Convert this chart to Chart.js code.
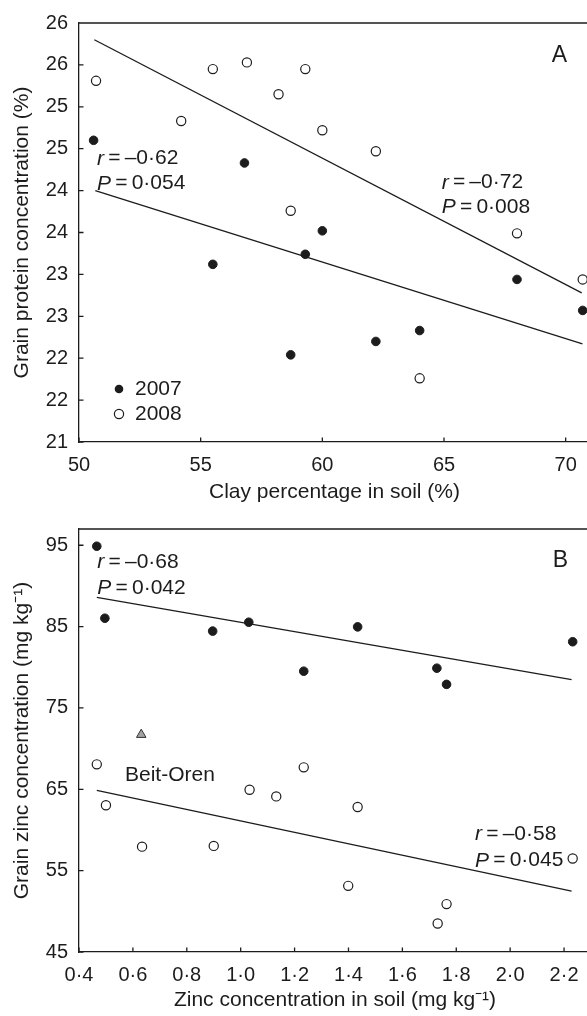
<!DOCTYPE html>
<html>
<head>
<meta charset="utf-8">
<script src="https://cdn.jsdelivr.net/npm/chart.js@4.4.1/dist/chart.umd.min.js"></script>
<style>
  html, body { margin: 0; padding: 0; background: #fff; overflow: hidden; }
  #wrap { position: relative; width: 587px; height: 1016px; overflow: hidden; background: #fff; }
  canvas { position: absolute; left: 0; }
  #clayChart { top: 0; }
  #zincChart { top: 506px; }
</style>
</head>
<body>
<div id="wrap">
  <canvas id="clayChart" width="600" height="506"></canvas>
  <canvas id="zincChart" width="600" height="510"></canvas>
</div>
<script>
// ---- Panel A: clay percentage vs grain protein ----
const clay2007 = [50.6, 56.8, 55.5, 60.0, 59.3, 58.7, 62.2, 64.0, 68.0, 70.7];
const protein2007 = [24.60, 24.33, 23.12, 23.52, 23.24, 22.04, 22.20, 22.33, 22.94, 22.57];
const clay2008 = [50.7, 54.2, 55.5, 56.9, 58.2, 59.3, 60.0, 62.2, 58.7, 68.0, 70.7, 64.0];
const protein2008 = [25.31, 24.83, 25.45, 25.53, 25.15, 25.45, 24.72, 24.47, 23.76, 23.49, 22.94, 21.76];
const clayFit2007X = [50.67, 70.69];
const clayFit2007Y = [24.00, 22.17];
const clayFit2008X = [50.63, 70.66];
const clayFit2008Y = [25.80, 22.78];
const clayTicks = [50, 55, 60, 65, 70];
const clayTickLabels = ['50', '55', '60', '65', '70'];
const proteinTicks = [21, 21.5, 22, 22.5, 23, 23.5, 24, 24.5, 25, 25.5, 26];
const proteinTickLabels = ['21', '22', '22', '23', '23', '24', '24', '25', '25', '26', '26'];

// ---- Panel B: soil zinc vs grain zinc ----
const soilZn2007 = [0.466, 0.496, 0.896, 1.030, 1.234, 1.434, 1.728, 1.764, 2.232];
const grainZn2007 = [94.88, 86.03, 84.45, 85.54, 79.52, 84.97, 79.89, 77.90, 83.14];
const soilZn2008 = [0.466, 0.500, 0.634, 0.900, 1.033, 1.132, 1.234, 1.434, 1.399, 1.764, 1.731, 2.232];
const grainZn2008 = [68.07, 63.04, 57.95, 58.04, 64.95, 64.13, 67.70, 62.83, 53.13, 50.89, 48.50, 56.49];
const beitOrenX = [0.631];
const beitOrenY = [71.72];
const znFit2007X = [0.466, 2.228];
const znFit2007Y = [88.59, 78.48];
const znFit2008X = [0.466, 2.228];
const znFit2008Y = [64.86, 52.47];
const soilZnTicks = [0.4, 0.6, 0.8, 1.0, 1.2, 1.4, 1.6, 1.8, 2.0, 2.2];
const soilZnTickLabels = ['0·4', '0·6', '0·8', '1·0', '1·2', '1·4', '1·6', '1·8', '2·0', '2·2'];
const grainZnTicks = [45, 55, 65, 75, 85, 95];
const grainZnTickLabels = ['45', '55', '65', '75', '85', '95'];

const ink = '#1c1c1c';
const family = '"Liberation Sans", Arial, Helvetica, sans-serif';
const tickFont = { family: family, size: 20 };
const titleFont = { family: family, size: 21 };

const pts = (xs, ys) => xs.map((x, i) => ({ x: x, y: ys[i] }));

// border on top, inward tick marks, text notes and the small legend
const figureDecor = {
    id: 'figureDecor',
    afterDraw(chart, args, opts) {
        const ctx = chart.ctx;
        const area = chart.chartArea;
        const xs = chart.scales.x;
        const ys = chart.scales.y;
        ctx.save();
        ctx.strokeStyle = ink;
        ctx.lineWidth = 1.3;
        ctx.beginPath();
        ctx.moveTo(area.left, area.top);
        ctx.lineTo(area.right + 2, area.top);
        xs.ticks.forEach(t => {
            const px = xs.getPixelForValue(t.value);
            ctx.moveTo(px, area.bottom);
            ctx.lineTo(px, area.bottom - 4.5);
        });
        ys.ticks.forEach(t => {
            const py = ys.getPixelForValue(t.value);
            ctx.moveTo(area.left, py);
            ctx.lineTo(area.left + 4.5, py);
        });
        ctx.stroke();

        ctx.fillStyle = ink;
        ctx.textBaseline = 'middle';
        ctx.textAlign = 'left';
        (opts.notes || []).forEach(n => {
            let x = area.left + n.dx;
            const y = area.top + n.dy;
            const size = n.size || 21;
            if (n.italic) {
                ctx.font = 'italic ' + size + 'px ' + family;
                ctx.fillText(n.italic, x, y);
                x += ctx.measureText(n.italic).width;
            }
            ctx.font = size + 'px ' + family;
            ctx.fillText(n.text, x, y);
        });

        (opts.legend || []).forEach(l => {
            const cx = area.left + l.dx;
            const cy = area.top + l.dy;
            ctx.beginPath();
            ctx.arc(cx, cy, l.filled ? 4.3 : 4.6, 0, Math.PI * 2);
            if (l.filled) {
                ctx.fillStyle = ink;
                ctx.fill();
            } else {
                ctx.fillStyle = '#fff';
                ctx.fill();
                ctx.lineWidth = 1.2;
                ctx.stroke();
            }
            ctx.fillStyle = ink;
            ctx.font = '21px ' + family;
            ctx.fillText(l.text, cx + 16, cy);
        });
        ctx.restore();
    }
};

function filledSet(label, data) {
    return {
        label: label, data: data,
        pointRadius: 4.3, pointHoverRadius: 4.3,
        pointBackgroundColor: ink, pointBorderColor: ink, pointBorderWidth: 1
    };
}

function openSet(label, data) {
    return {
        label: label, data: data,
        pointRadius: 4.6, pointHoverRadius: 4.6,
        pointBackgroundColor: '#fff', pointBorderColor: ink, pointBorderWidth: 1.2
    };
}

function fitLine(label, data) {
    return {
        label: label, data: data, showLine: true,
        borderColor: ink, borderWidth: 1.3, pointRadius: 0, fill: false
    };
}

function axis(min, max, ticks, labels, title, fitSize, vertical, titlePad) {
    return {
        type: 'linear', min: min, max: max,
        afterBuildTicks: s => { s.ticks = ticks.map(v => ({ value: v })); },
        afterFit: s => { if (vertical) { s.width = fitSize; } else { s.height = fitSize; } },
        grid: { display: false, drawTicks: false },
        border: { display: true, color: ink, width: 1.3 },
        ticks: { padding: 11, color: ink, font: tickFont, maxRotation: 0, autoSkip: false,
                 callback: (v, i) => labels[i] },
        title: { display: true, text: title, color: ink, font: titleFont, padding: titlePad }
    };
}

new Chart(document.getElementById('clayChart'), {
    type: 'scatter',
    data: {
        datasets: [
            fitLine('2008 fit', pts(clayFit2008X, clayFit2008Y)),
            fitLine('2007 fit', pts(clayFit2007X, clayFit2007Y)),
            filledSet('2007', pts(clay2007, protein2007)),
            openSet('2008', pts(clay2008, protein2008))
        ]
    },
    options: {
        responsive: false,
        animation: false,
        layout: { padding: { top: 16, right: 10, left: 0, bottom: 0 } },
        scales: {
            x: axis(50, 71, clayTicks, clayTickLabels, 'Clay percentage in soil (%)', 64, false, { top: 0, bottom: 1.4 }),
            y: axis(21, 26, proteinTicks, proteinTickLabels, 'Grain protein concentration (%)', 79, true, { top: 9.4, bottom: 0 })
        },
        plugins: {
            legend: { display: false },
            tooltip: { enabled: false },
            figureDecor: {
                notes: [
                    { dx: 18, dy: 135.7, italic: 'r', text: '\u2009=\u2009–0·62' },
                    { dx: 18, dy: 160.7, italic: 'P', text: '\u2009=\u20090·054' },
                    { dx: 362.7, dy: 159.7, italic: 'r', text: '\u2009=\u2009–0·72' },
                    { dx: 362.7, dy: 184, italic: 'P', text: '\u2009=\u20090·008' },
                    { dx: 472.7, dy: 33, text: 'A', size: 23 }
                ],
                legend: [
                    { dx: 40, dy: 366, filled: true, text: '2007' },
                    { dx: 40, dy: 391, filled: false, text: '2008' }
                ]
            }
        }
    },
    plugins: [figureDecor]
});

new Chart(document.getElementById('zincChart'), {
    type: 'scatter',
    data: {
        datasets: [
            fitLine('2007 fit', pts(znFit2007X, znFit2007Y)),
            fitLine('2008 fit', pts(znFit2008X, znFit2008Y)),
            filledSet('2007', pts(soilZn2007, grainZn2007)),
            openSet('2008', pts(soilZn2008, grainZn2008)),
            {
                label: 'Beit-Oren', data: pts(beitOrenX, beitOrenY),
                pointStyle: 'triangle', pointRadius: 5.5, pointHoverRadius: 5.5,
                pointBackgroundColor: '#a3a3a3', pointBorderColor: '#333', pointBorderWidth: 1
            }
        ]
    },
    options: {
        responsive: false,
        animation: false,
        layout: { padding: { top: 19, right: 9, left: 0, bottom: 0 } },
        scales: {
            x: axis(0.4, 2.3, soilZnTicks, soilZnTickLabels, 'Zinc concentration in soil (mg kg\u207B\u00B9)', 64, false, { top: 0, bottom: 3.4 }),
            y: axis(45, 97, grainZnTicks, grainZnTickLabels, 'Grain zinc concentration (mg kg\u207B\u00B9)', 79, true, { top: 9.4, bottom: 0 })
        },
        plugins: {
            legend: { display: false },
            tooltip: { enabled: false },
            figureDecor: {
                notes: [
                    { dx: 18.3, dy: 33.3, italic: 'r', text: '\u2009=\u2009–0·68' },
                    { dx: 18.3, dy: 59, italic: 'P', text: '\u2009=\u20090·042' },
                    { dx: 396, dy: 305, italic: 'r', text: '\u2009=\u2009–0·58' },
                    { dx: 396, dy: 331.7, italic: 'P', text: '\u2009=\u20090·045' },
                    { dx: 473.7, dy: 31.7, text: 'B', size: 23 },
                    { dx: 46, dy: 246, text: 'Beit-Oren' }
                ]
            }
        }
    },
    plugins: [figureDecor]
});
</script>
</body>
</html>
